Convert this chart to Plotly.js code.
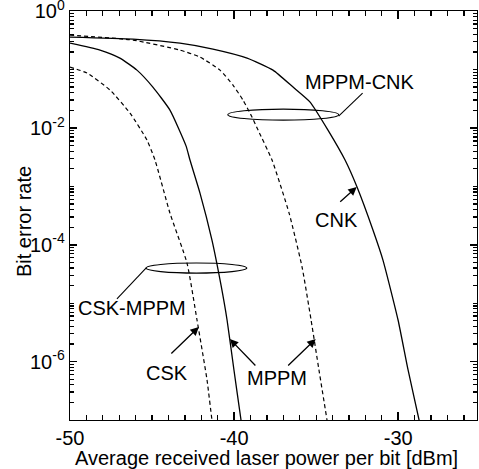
<!DOCTYPE html>
<html><head><meta charset="utf-8">
<script src="https://cdn.plot.ly/plotly-3.0.1.min.js"></script>
<style>html,body{margin:0;padding:0;background:#fff}#chart{width:479px;height:469px}</style>
</head><body><div id="chart"></div>
<script>
// Series: x = average received laser power per bit [dBm], y = bit error rate
const cnkX = [-50, -46.16, -43.30, -41.29, -39.21, -37.63, -36.41, -35.37, -34.28, -33.24, -32.51, -31.54, -30.93, -30.01, -29.40, -28.73, -28.49];
const cnkY = [0.359, 0.332, 0.283, 0.224, 0.157, 0.0977, 0.0500, 0.0277, 0.00918, 0.00282, 9.73e-4, 1.79e-4, 5.47e-5, 5.15e-6, 7.18e-7, 1.0e-7, 4.55e-8];

const mppmCnkX = [-50, -46.16, -43.30, -42.08, -40.86, -40.07, -39.46, -38.91, -38.54, -37.69, -36.65, -35.86, -35.31, -34.83, -34.34, -34.16];
const mppmCnkY = [0.388, 0.319, 0.215, 0.163, 0.0977, 0.0542, 0.0300, 0.01535, 0.00918, 0.00282, 3.49e-4, 4.16e-5, 5.15e-6, 7.18e-7, 1.0e-7, 4.55e-8];

const mppmX = [-50, -48.17, -46.96, -45.92, -44.95, -43.91, -42.93, -42.69, -42.08, -41.35, -40.80, -40.43, -40.01, -39.58, -39.40];
const mppmY = [0.283, 0.215, 0.157, 0.0977, 0.0500, 0.0202, 0.00493, 0.00282, 7.67e-4, 1.20e-4, 2.05e-5, 5.15e-6, 7.18e-7, 1.0e-7, 4.55e-8];

const cskX = [-50, -48.96, -47.56, -46.34, -45.31, -44.82, -43.91, -42.87, -42.26, -41.65, -41.35, -41.16];
const cskY = [0.110, 0.0869, 0.0445, 0.0179, 0.00619, 0.00282, 3.49e-4, 4.86e-5, 5.15e-6, 4.84e-7, 1.0e-7, 4.55e-8];

// Tick labels
const xTickVals = [-50, -40, -30];
const xTickText = ['-50', '-40', '-30'];
const yTickVals = [1, 1e-2, 1e-4, 1e-6];
const yTickText = ['10<sup>0</sup>', '10<sup>-2</sup>', '10<sup>-4</sup>', '10<sup>-6</sup>'];

const yMinor = [];
for (let e = -7; e <= -1; e++) {
  for (let d = 1; d <= 9; d++) {
    if (d === 1 && e % 2 === 0) continue;
    yMinor.push(d * Math.pow(10, e));
  }
}

const FONT = 'Liberation Sans, Arial, sans-serif';
const solid = {color: '#000', width: 1.3, shape: 'spline', smoothing: 0.5};
const dashed = {color: '#000', width: 1.2, dash: '4px,3px', shape: 'spline', smoothing: 0.5};

const traces = [
  {x: cnkX, y: cnkY, mode: 'lines', name: 'CNK', line: solid},
  {x: mppmCnkX, y: mppmCnkY, mode: 'lines', name: 'MPPM-CNK', line: dashed},
  {x: mppmX, y: mppmY, mode: 'lines', name: 'MPPM', line: solid},
  {x: cskX, y: cskY, mode: 'lines', name: 'CSK', line: dashed}
];

const arrowBase = {text: '', showarrow: true, arrowhead: 2, arrowsize: 1.3, arrowwidth: 1.3, arrowcolor: '#000', xref: 'x', yref: 'y', standoff: 0};
const textBase = {showarrow: false, xref: 'x', yref: 'y', font: {family: FONT, size: 20, color: '#000'}, xanchor: 'center', yanchor: 'middle'};

const annotations = [
  Object.assign({}, textBase, {text: 'MPPM-CNK', x: -32.35, y: -1.215}),
  Object.assign({}, textBase, {text: 'CNK', x: -33.75, y: -3.577}),
  Object.assign({}, textBase, {text: 'CSK-MPPM', x: -46.23, y: -5.083}),
  Object.assign({}, textBase, {text: 'CSK', x: -44.07, y: -6.187}),
  Object.assign({}, textBase, {text: 'MPPM', x: -37.40, y: -6.281}),
  Object.assign({}, arrowBase, {x: -32.53, y: -3.012, ax: -18, ay: 16}),
  Object.assign({}, arrowBase, {x: -42.15, y: -5.408, ax: -29, ay: 28}),
  Object.assign({}, arrowBase, {x: -40.26, y: -5.614, ax: 27, ay: 28}),
  Object.assign({}, arrowBase, {x: -35.03, y: -5.614, ax: -29, ay: 28}),
  {text: 'Average received laser power per bit [dBm]', showarrow: false, xref: 'paper', yref: 'paper', x: 0.4828, y: -0.092, xanchor: 'center', yanchor: 'middle', font: {family: FONT, size: 20, color: '#000'}},
  {text: 'Bit error rate', showarrow: false, xref: 'paper', yref: 'paper', x: -0.113, y: 0.484, xanchor: 'center', yanchor: 'middle', textangle: -90, font: {family: FONT, size: 20, color: '#000'}}
];

const shapes = [
  {type: 'circle', xref: 'x', yref: 'y', x0: -40.38, x1: -33.63, y0: 0.0136, y1: 0.0210, line: {color: '#000', width: 1.2}},
  {type: 'circle', xref: 'x', yref: 'y', x0: -45.37, x1: -39.23, y0: 3.28e-5, y1: 4.87e-5, line: {color: '#000', width: 1.2}},
  {type: 'line', xref: 'x', yref: 'y', x0: -33.63, x1: -32.17, y0: 0.01596, y1: 0.0395, line: {color: '#000', width: 1.1}},
  {type: 'line', xref: 'x', yref: 'y', x0: -45.37, x1: -47.14, y0: 4.0e-5, y1: 1.18e-5, line: {color: '#000', width: 1.1}}
];

const layout = {
  width: 479, height: 469,
  margin: {l: 70, r: 2, t: 11, b: 49, pad: 0},
  paper_bgcolor: '#fff', plot_bgcolor: '#fff',
  showlegend: false,
  font: {family: FONT, size: 20, color: '#000'},
  xaxis: {
    range: [-50, -25.2], showgrid: false, zeroline: false,
    showline: true, linecolor: '#000', linewidth: 1.3, mirror: 'allticks',
    ticks: 'inside', ticklen: 8, tickwidth: 1.5, tickcolor: '#000',
    tickmode: 'array', tickvals: xTickVals, ticktext: xTickText,
    tickfont: {family: FONT, size: 20, color: '#000'},
    minor: {dtick: 1, tick0: -50, ticks: 'inside', ticklen: 5, tickwidth: 1.3, tickcolor: '#000', showgrid: false},
    automargin: false, fixedrange: true
  },
  yaxis: {
    type: 'log', range: [-7, 0.002], showgrid: false, zeroline: false,
    showline: true, linecolor: '#000', linewidth: 1.3, mirror: 'allticks',
    ticks: 'inside', ticklen: 7, tickwidth: 1.5, tickcolor: '#000', ticklabeloverflow: 'allow',
    tickmode: 'array', tickvals: yTickVals, ticktext: yTickText,
    tickfont: {family: FONT, size: 20, color: '#000'},
    minor: {tickmode: 'array', tickvals: yMinor, ticks: 'inside', ticklen: 4, tickwidth: 1.3, tickcolor: '#000', showgrid: false},
    automargin: false, fixedrange: true
  },
  annotations: annotations,
  shapes: shapes
};

Plotly.newPlot('chart', traces, layout, {staticPlot: true, displayModeBar: false});
</script>
</body></html>
